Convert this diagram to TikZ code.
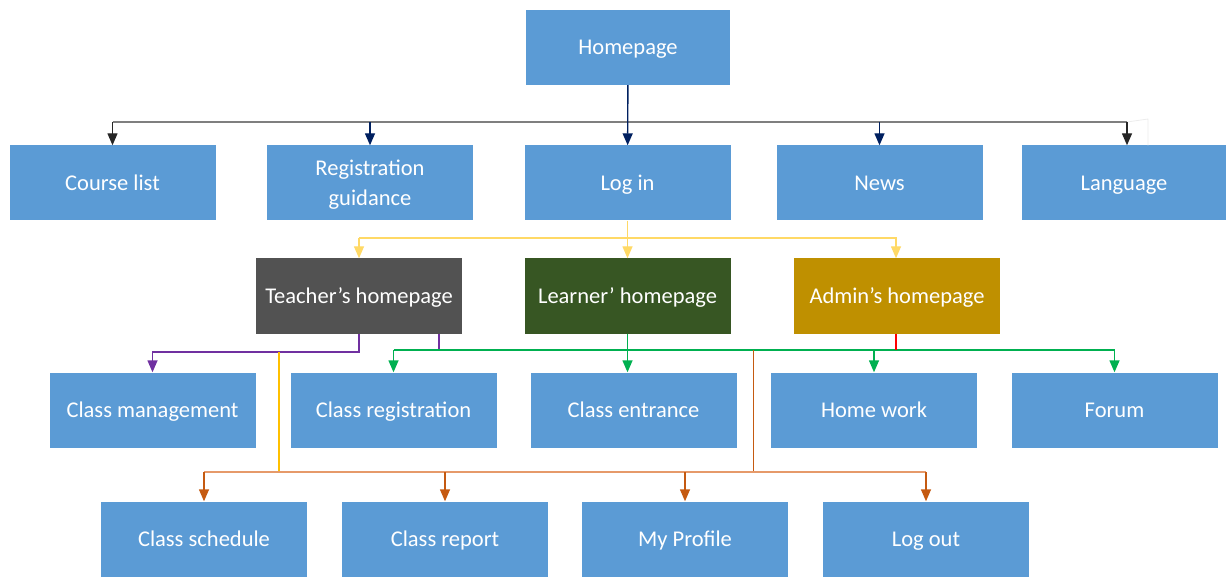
\documentclass[tikz,border=0pt]{standalone}
\usepackage{fontspec}
\setmainfont{Carlito}
\usetikzlibrary{arrows.meta,positioning}
\definecolor{boxblue}{HTML}{5B9BD5}
\definecolor{teachgray}{HTML}{525252}
\definecolor{learngreen}{HTML}{375623}
\definecolor{admingold}{HTML}{BF9000}
\definecolor{linenavy}{HTML}{002060}
\definecolor{linegray}{HTML}{7F7F7F}
\definecolor{lineyellow}{HTML}{FFD966}
\definecolor{lineamber}{HTML}{FFC000}
\definecolor{linepurple}{HTML}{7030A0}
\definecolor{linegreen}{HTML}{00B050}
\definecolor{linered}{HTML}{FF0000}
\definecolor{lineorange}{HTML}{C55A11}
\definecolor{lineorangelt}{HTML}{E69A6A}

\begin{document}
\begin{tikzpicture}[x=1pt,y=-1pt,
  page/.style={fill=boxblue,text=white,minimum width=206pt,minimum height=75pt,
    inner sep=0pt,align=center,text height=17pt,text depth=2pt,
    font=\fontsize{22.5}{30}\selectfont},
  arr/.style={line width=1.4pt,-{Triangle[length=12pt,width=10pt]}},
  wire/.style={line width=1.4pt}]

  \useasboundingbox (0,0) rectangle (1226,577);

  % ---- Top level ---------------------------------------------
  \node[page,minimum width=204pt] (home) at (628,47.5) {Homepage};

  % ---- Second row --------------------------------------------
  \node[page] (course)   at (112.5,183) {Course list};
  \node[page,text height=47pt,text depth=2pt] (regguide) at (370,183) {Registration\\guidance};
  \node[page] (login)    at (627.5,183) {Log in};
  \node[page] (news)     at (879.5,183) {News};
  \node[page,minimum width=204pt] (lang) at (1124,183) {Language};

  % ---- Homepages after log in --------------------------------
  \node[page,fill=teachgray]  (teacher) at (359,296)   {Teacher’s homepage};
  \node[page,fill=learngreen] (learner) at (627.5,296) {Learner’ homepage};
  \node[page,fill=admingold]  (admin)   at (897,296)   {Admin’s homepage};

  % ---- Fourth row --------------------------------------------
  \node[page] (mgmt)     at (152.5,410) {Class management};
  \node[page] (classreg) at (393.5,410) {Class registration};
  \node[page] (entrance) at (633.5,410) {Class entrance};
  \node[page] (homework) at (874,410)   {Home work};
  \node[page] (forum)    at (1114.5,410) {Forum};

  % ---- Bottom row --------------------------------------------
  \node[page] (schedule) at (204,539) {Class schedule};
  \node[page] (report)   at (445,539) {Class report};
  \node[page] (profile)  at (685,539) {My Profile};
  \node[page] (logout)   at (926,539) {Log out};

  % bus lines
  \coordinate (topbus)   at (0,122);
  \coordinate (loginbus) at (0,238);
  \coordinate (teachbus) at (0,352);
  \coordinate (greenbus) at (0,350);
  \coordinate (lowbus)   at (0,472);

  % ---- Homepage links ----------------------------------------
  \draw[wire,linegray] (course.north |- topbus) -- ([xshift=3pt]lang.north |- topbus);
  \draw[wire,gray!15,line width=0.8pt] ([xshift=3pt]lang.north |- topbus)
    -- ++(21,-3) |- ([xshift=24pt]lang.north);
  \draw[arr,linenavy] (home) -- (login);
  \draw[arr,black!85] (course.north |- topbus) -- (course.north);
  \draw[arr,linenavy] (regguide.north |- topbus) -- (regguide.north);
  \draw[arr,linenavy] (news.north |- topbus) -- (news.north);
  \draw[arr,black!85] ([xshift=3pt]lang.north |- topbus) -- ([xshift=3pt]lang.north);

  % ---- Log in links ------------------------------------------
  \draw[wire,lineyellow] (teacher.north |- loginbus) -- (admin.north |- loginbus);
  \draw[arr,lineyellow] (login) -- (learner);
  \draw[arr,lineyellow] (teacher.north |- loginbus) -- (teacher.north);
  \draw[arr,lineyellow] ([xshift=-1pt]admin.north |- loginbus) -- ([xshift=-1pt]admin.north);

  % ---- Teacher links -----------------------------------------
  \draw[arr,linepurple] (teacher.south) -- (teacher.south |- teachbus) -| (mgmt.north);
  \draw[wire,linepurple] ([xshift=80pt]teacher.south) -- ([xshift=80pt]teacher.south |- greenbus);
  \draw[wire,lineamber] ([xshift=-80pt]teacher.south |- teachbus) -- ([xshift=-80pt]teacher.south |- lowbus);

  % ---- Learner / admin links ---------------------------------
  \draw[wire,linegreen] (classreg.north |- greenbus) -- (forum.north |- greenbus);
  \draw[arr,linegreen] (classreg.north |- greenbus) -- (classreg.north);
  \draw[arr,linegreen] (learner.south) -- (learner.south |- entrance.north);
  \draw[arr,linegreen] (homework.north |- greenbus) -- (homework.north);
  \draw[arr,linegreen] (forum.north |- greenbus) -- (forum.north);
  \draw[wire,linered] ([xshift=-1pt]admin.south) -- ([xshift=-1pt]admin.south |- greenbus);
  \draw[wire,lineorange] ([xshift=126pt]learner.south |- greenbus) -- ([xshift=126pt]learner.south |- lowbus);

  % ---- Shared pages ------------------------------------------
  \draw[wire,lineorangelt] (schedule.north |- lowbus) -- (logout.north |- lowbus);
  \draw[arr,lineorange] (schedule.north |- lowbus) -- (schedule.north);
  \draw[arr,lineorange] (report.north |- lowbus) -- (report.north);
  \draw[arr,lineorange] (profile.north |- lowbus) -- (profile.north);
  \draw[arr,lineorange] (logout.north |- lowbus) -- (logout.north);

\end{tikzpicture}
\end{document}
